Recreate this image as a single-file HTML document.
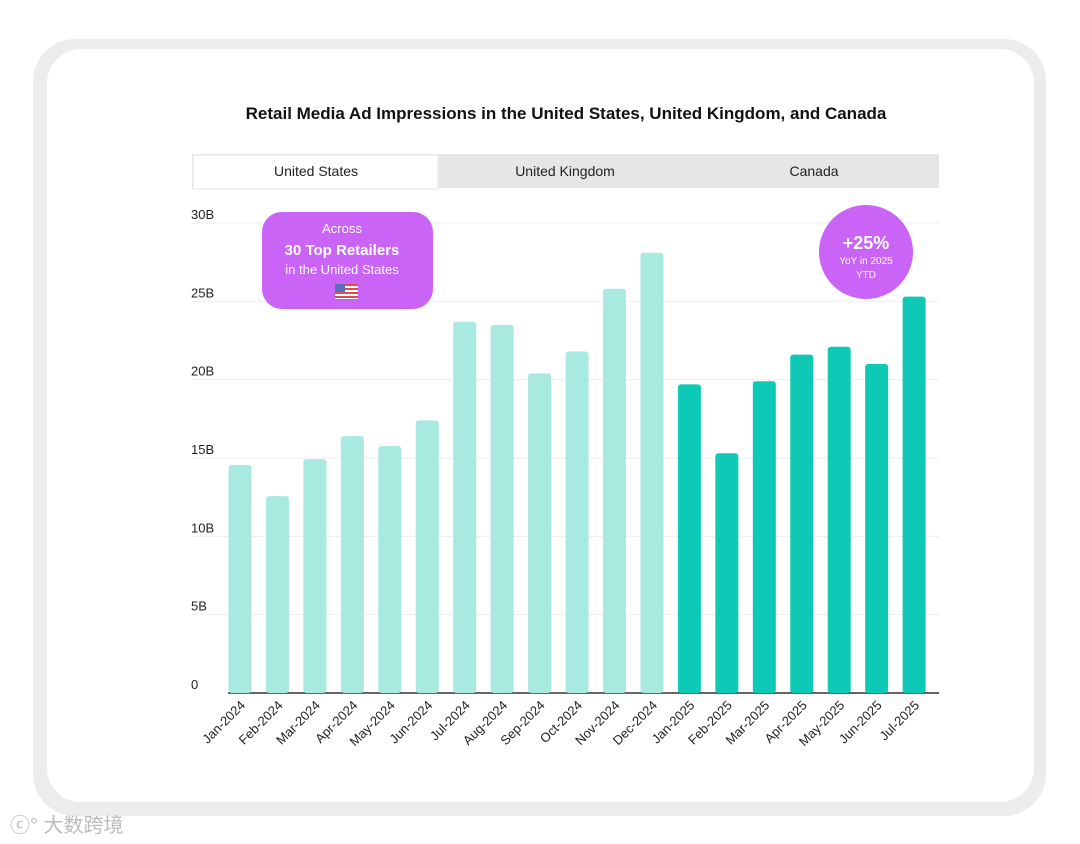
<!DOCTYPE html>
<html><head><meta charset="utf-8"><style>
body{margin:0;width:1080px;height:844px;background:#fff;overflow:hidden;font-family:"Liberation Sans","Noto Sans CJK SC",sans-serif}
#frame{position:absolute;left:33px;top:39px;width:1013px;height:777px;background:#ececec;border-radius:42px}
#card{position:absolute;left:47px;top:49px;width:987px;height:753px;background:#fff;border-radius:34px}
</style></head><body>
<div id="frame"></div>
<div id="card"></div>
<svg id="chart" width="1080" height="844" style="position:absolute;left:0;top:0">
<text x="566" y="119" text-anchor="middle" font-size="17" font-weight="bold" fill="#111">Retail Media Ad Impressions in the United States, United Kingdom, and Canada</text>
<rect x="192" y="154" width="747" height="34" fill="#e6e6e6"/>
<rect x="193" y="155" width="245" height="34" fill="#fff" stroke="#e6e6e6"/>
<text x="316" y="176" text-anchor="middle" font-size="14" fill="#222">United States</text>
<text x="565" y="176" text-anchor="middle" font-size="14" fill="#222">United Kingdom</text>
<text x="814" y="176" text-anchor="middle" font-size="14" fill="#222">Canada</text>
<g id="grid"></g><g id="bars"></g><g id="xl"></g>
<rect x="262" y="212" width="171" height="97" rx="20" fill="#c964f7"/>
<text x="342" y="233" text-anchor="middle" font-size="13" fill="#fff">Across</text>
<text x="342" y="255" text-anchor="middle" font-size="15" font-weight="bold" fill="#fff">30 Top Retailers</text>
<text x="342" y="274" text-anchor="middle" font-size="13" fill="#fff">in the United States</text>
<g><rect x="335" y="284" width="23" height="15" fill="#fff"/><rect x="335" y="284" width="23" height="2" fill="#e04a4a"/><rect x="335" y="288" width="23" height="2" fill="#e04a4a"/><rect x="335" y="292" width="23" height="2" fill="#e04a4a"/><rect x="335" y="296" width="23" height="2" fill="#e04a4a"/><rect x="335" y="284" width="10" height="8" fill="#5a6fb8"/></g>
<circle cx="866" cy="252" r="47" fill="#c964f7"/>
<text x="866" y="249" text-anchor="middle" font-size="18" font-weight="bold" fill="#fff">+25%</text>
<text x="866" y="264" text-anchor="middle" font-size="10" fill="#fff">YoY in 2025</text>
<text x="866" y="278" text-anchor="middle" font-size="10" fill="#fff">YTD</text>
<text x="10" y="832" font-size="20" fill="#bbb">ⓒ° 大数跨境</text>
</svg>
<script>
const categories=["Jan-2024","Feb-2024","Mar-2024","Apr-2024","May-2024","Jun-2024","Jul-2024","Aug-2024","Sep-2024","Oct-2024","Nov-2024","Dec-2024","Jan-2025","Feb-2025","Mar-2025","Apr-2025","May-2025","Jun-2025","Jul-2025"];
const values=[14.55,12.57,14.93,16.4,15.76,17.4,23.7,23.5,20.4,21.8,25.8,28.1,19.7,15.3,19.9,21.6,22.1,21.0,25.3];
const tickValues=[0,5,10,15,20,25,30];
const tickLabels=["0","5B","10B","15B","20B","25B","30B"];
const NS="http://www.w3.org/2000/svg";
const y0=693,yTop=223,vmax=30;
const y=v=>y0-(v/vmax)*(y0-yTop);
const x=i=>240+i*37.45;
function mk(t,a,p){const e=document.createElementNS(NS,t);for(const k in a)e.setAttribute(k,a[k]);p.appendChild(e);return e;}
const grid=document.getElementById('grid'),bars=document.getElementById('bars'),xl=document.getElementById('xl');
tickValues.forEach((v,i)=>{
 if(v>0){const l=mk('line',{x1:192,x2:939,y1:y(v),y2:y(v),stroke:'#eeeeee'},grid);
 
 }
 const t=mk('text',{x:191,y:y(v)-4,'font-size':13,fill:'#222'},grid);t.textContent=tickLabels[i];
 
 
});
categories.forEach((c,i)=>{
 const r=mk('rect',{x:x(i)-11.5,y:y(values[i]),width:23,height:y0-y(values[i]),rx:3,fill:c.endsWith('2025')?'#0dc9b5':'#a8eae0'},bars);
 
 
 const t=mk('text',{x:x(i)+6,y:706,'font-size':13,fill:'#222','text-anchor':'end',transform:`rotate(-45 ${x(i)+6} 706)`},xl);t.textContent=c;
 
 
});
const ax=mk('line',{x1:228,x2:939,y1:y0,y2:y0,stroke:'#333','stroke-width':1.5},grid);


</script>
</body></html>
